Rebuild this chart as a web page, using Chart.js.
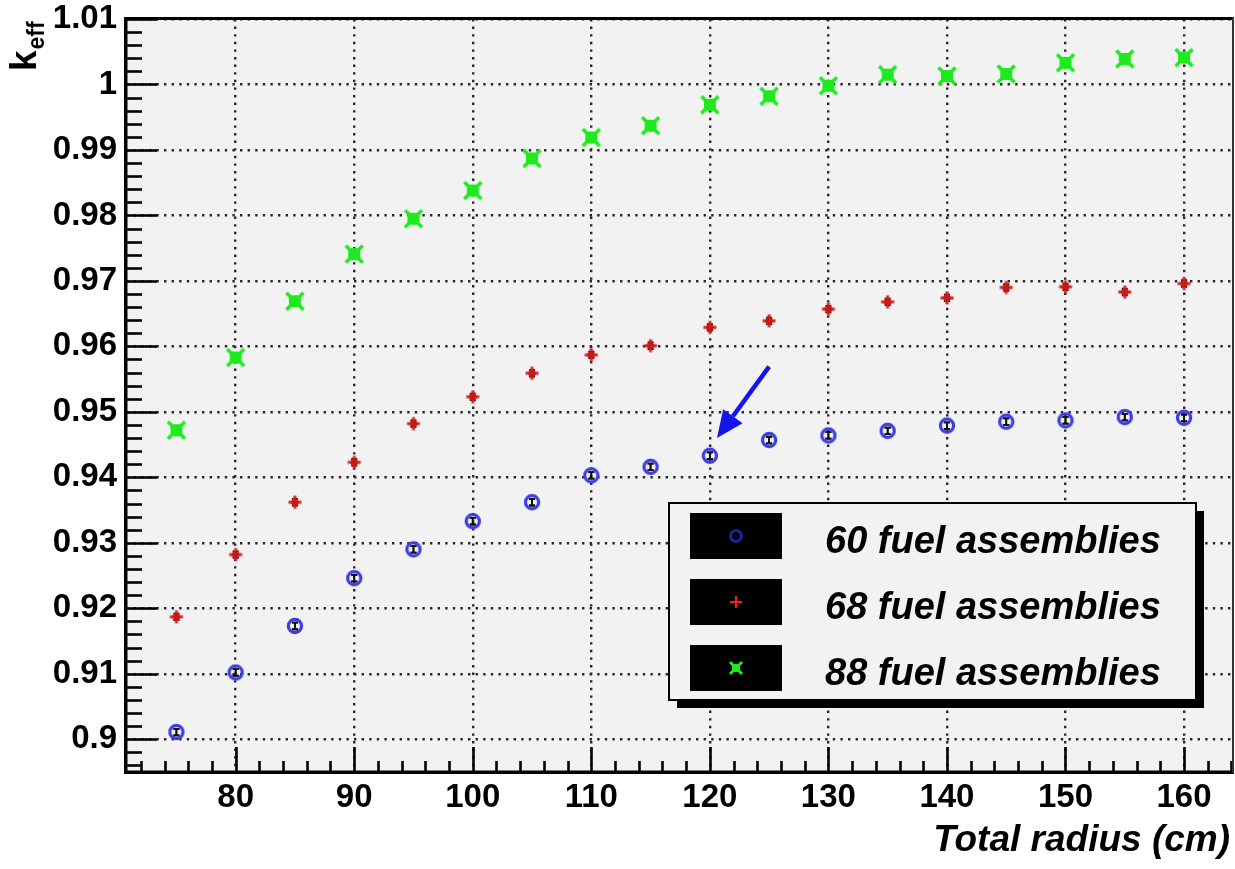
<!DOCTYPE html>
<html>
<head>
<meta charset="utf-8">
<script src="https://cdn.jsdelivr.net/npm/chart.js@4.4.1/dist/chart.umd.min.js"></script>
<style>
  html, body { margin: 0; padding: 0; background: #ffffff; }
  #wrap { width: 1235px; height: 869px; position: relative; }
  canvas { display: block; }
</style>
</head>
<body>
<div id="wrap"><canvas id="c" width="1235" height="869"></canvas></div>
<script>
// ---------------- data ----------------
const radius = [75, 80, 85, 90, 95, 100, 105, 110, 115, 120, 125, 130, 135, 140, 145, 150, 155, 160];
const keff60 = [0.9011, 0.9102, 0.9173, 0.9246, 0.9290, 0.9333, 0.9362, 0.9403, 0.9416, 0.9433, 0.9457, 0.9464, 0.9471, 0.9479, 0.9485, 0.9487, 0.9492, 0.9491];
const keff68 = [0.9187, 0.9282, 0.9362, 0.9423, 0.9482, 0.9523, 0.9559, 0.9587, 0.9601, 0.9629, 0.9639, 0.9657, 0.9668, 0.9674, 0.9690, 0.9691, 0.9683, 0.9696];
const keff88 = [0.9472, 0.9583, 0.9669, 0.9741, 0.9795, 0.9838, 0.9887, 0.9919, 0.9937, 0.9969, 0.9982, 0.9998, 1.0015, 1.0013, 1.0016, 1.0033, 1.0039, 1.0041];
const err60 = [0.0005, 0.0005, 0.0005, 0.0005, 0.0005, 0.0005, 0.0005, 0.0005, 0.0005, 0.0005, 0.0005, 0.0005, 0.0005, 0.0005, 0.0005, 0.0005, 0.0005, 0.0005];
const err68 = [0.0005, 0.0005, 0.0005, 0.0005, 0.0005, 0.0005, 0.0005, 0.0005, 0.0005, 0.0005, 0.0005, 0.0005, 0.0005, 0.0005, 0.0005, 0.0005, 0.0005, 0.0005];
const err88 = [0.0005, 0.0005, 0.0005, 0.0005, 0.0005, 0.0005, 0.0005, 0.0005, 0.0005, 0.0005, 0.0005, 0.0005, 0.0005, 0.0005, 0.0005, 0.0005, 0.0005, 0.0005];
const seriesLabels = ['60 fuel assemblies', '68 fuel assemblies', '88 fuel assemblies'];
const xTickValues = [80, 90, 100, 110, 120, 130, 140, 150, 160];
const xTickLabels = ['80', '90', '100', '110', '120', '130', '140', '150', '160'];
const yTickValues = [0.90, 0.91, 0.92, 0.93, 0.94, 0.95, 0.96, 0.97, 0.98, 0.99, 1.00, 1.01];
const yTickLabels = ['0.9', '0.91', '0.92', '0.93', '0.94', '0.95', '0.96', '0.97', '0.98', '0.99', '1', '1.01'];
const xRange = [70.75, 164.13];
const yRange = [0.895, 1.01];
const xAxisTitle = 'Total radius (cm)';
const yAxisTitleMain = 'k';
const yAxisTitleSub = 'eff';
const arrowFrom = [125.0, 0.9569];
const arrowTo = [120.6, 0.9460];

// ---------------- marker images ----------------
const FONT = '"Liberation Sans", Arial, Helvetica, sans-serif';
function makeMarker(kind, legend) {
  const s = 28, c = document.createElement('canvas');
  c.width = s; c.height = s;
  const g = c.getContext('2d');
  const m = s / 2;
  if (kind === 'circle') {
    g.strokeStyle = legend ? 'rgb(35,35,190)' : 'rgb(60,60,228)';
    g.lineWidth = legend ? 2.5 : 3.2;
    g.beginPath(); g.arc(m, m, legend ? 5.5 : 6.6, 0, Math.PI * 2); g.stroke();
  } else if (kind === 'plus') {
    const a = legend ? 6 : 6.5;
    g.strokeStyle = legend ? 'rgb(245,30,30)' : 'rgb(222,35,35)';
    g.lineWidth = legend ? 2.2 : 3;
    g.beginPath();
    g.moveTo(m - a, m); g.lineTo(m + a, m);
    g.moveTo(m, m - a); g.lineTo(m, m + a);
    g.stroke();
    if (!legend) {
      g.fillStyle = 'rgb(200,25,25)';
      g.beginPath(); g.arc(m, m, 3.8, 0, Math.PI * 2); g.fill();
    }
  } else {
    const a = legend ? 6 : 8.5, q = legend ? 4 : 6;
    g.fillStyle = 'rgb(30,235,30)';
    g.strokeStyle = 'rgb(30,235,30)';
    g.fillRect(m - q, m - q, 2 * q, 2 * q);
    g.lineWidth = legend ? 3 : 3.6;
    g.beginPath();
    g.moveTo(m - a, m - a); g.lineTo(m + a, m + a);
    g.moveTo(m + a, m - a); g.lineTo(m - a, m + a);
    g.stroke();
  }
  return c;
}
const markerKinds = ['circle', 'plus', 'star'];
const plotMarkers = markerKinds.map(k => makeMarker(k, false));
const legendMarkers = markerKinds.map(k => makeMarker(k, true));

const seriesValues = [keff60, keff68, keff88];
const seriesErrors = [err60, err68, err88];

const datasets = seriesValues.map((vals, i) => ({
  label: seriesLabels[i],
  data: radius.map((r, j) => ({ x: r, y: vals[j] })),
  pointStyle: plotMarkers[i],
  pointRadius: 8,
  showLine: false,
  errors: seriesErrors[i]
}));

function drawErr(ctx, xs, ys, ds) {
  ds.data.forEach((p, j) => {
    const e = ds.errors[j];
    const px = xs.getPixelForValue(p.x);
    const y1 = ys.getPixelForValue(p.y - e), y2 = ys.getPixelForValue(p.y + e);
    ctx.beginPath();
    ctx.moveTo(px, y1); ctx.lineTo(px, y2);
    ctx.moveTo(px - 3, y1); ctx.lineTo(px + 3, y1);
    ctx.moveTo(px - 3, y2); ctx.lineTo(px + 3, y2);
    ctx.stroke();
  });
}

// ---------------- decoration plugin ----------------
const decor = {
  id: 'decor',
  beforeDraw(chart) {
    const { ctx, chartArea: a } = chart;
    ctx.save();
    ctx.fillStyle = '#ffffff';
    ctx.fillRect(0, 0, chart.width, chart.height);
    ctx.fillStyle = 'rgb(242,242,242)';
    ctx.fillRect(a.left, a.top, a.right - a.left, a.bottom - a.top);
    ctx.restore();
  },
  beforeDatasetsDraw(chart) {
    const { ctx } = chart;
    ctx.save();
    ctx.strokeStyle = '#111';
    ctx.lineWidth = 1.8;
    chart.data.datasets.forEach(ds => drawErr(ctx, chart.scales.x, chart.scales.y, ds));
    ctx.restore();
  },
  afterDatasetsDraw(chart) {
    const { ctx } = chart;
    ctx.save();
    ctx.strokeStyle = '#111';
    ctx.lineWidth = 1.8;
    drawErr(ctx, chart.scales.x, chart.scales.y, chart.data.datasets[0]);
    ctx.restore();
  },
  afterDraw(chart) {
    const { ctx, chartArea: a } = chart;
    const xs = chart.scales.x, ys = chart.scales.y;
    ctx.save();

    // ticks (major + minor)
    ctx.strokeStyle = '#000';
    ctx.lineWidth = 2.6;
    const yStep = (yTickValues[1] - yTickValues[0]) / 5;
    for (let k = -5; k <= (yTickValues.length - 1) * 5; k++) {
      const v = yTickValues[0] + k * yStep;
      if (v < yRange[0] - 1e-9 || v > yRange[1] + 1e-9) continue;
      const py = Math.round(ys.getPixelForValue(v)) + 0.5;
      const len = (k % 5 === 0) ? 31 : 16;
      ctx.beginPath(); ctx.moveTo(a.left, py); ctx.lineTo(a.left + len, py); ctx.stroke();
    }
    const xStep = (xTickValues[1] - xTickValues[0]) / 5;
    for (let k = -5; k <= (xTickValues.length - 1) * 5 + 5; k++) {
      const v = xTickValues[0] + k * xStep;
      if (v < xRange[0] || v > xRange[1]) continue;
      const px = Math.round(xs.getPixelForValue(v)) + 0.5;
      const len = (k % 5 === 0) ? 25 : 11;
      ctx.beginPath(); ctx.moveTo(px, a.bottom); ctx.lineTo(px, a.bottom - len); ctx.stroke();
    }

    // frame
    ctx.fillStyle = '#000';
    ctx.fillRect(a.left - 2, a.top - 2, 3.5, a.bottom - a.top + 4);
    ctx.fillRect(a.left - 2, a.bottom - 1.5, a.right - a.left + 3, 3.5);
    ctx.fillRect(a.left - 2, a.top - 2, a.right - a.left + 3, 3);
    ctx.fillStyle = '#333';
    ctx.fillRect(a.right - 1, a.top - 2, 2, a.bottom - a.top + 3);

    // arrow annotation
    const tx = xs.getPixelForValue(arrowTo[0]), ty = ys.getPixelForValue(arrowTo[1]);
    const fx = xs.getPixelForValue(arrowFrom[0]), fy = ys.getPixelForValue(arrowFrom[1]);
    const ang = Math.atan2(ty - fy, tx - fx);
    const headL = 27, headW = 12;
    const bx = tx - headL * Math.cos(ang), by = ty - headL * Math.sin(ang);
    ctx.strokeStyle = 'rgb(20,20,235)';
    ctx.fillStyle = 'rgb(20,20,235)';
    ctx.lineWidth = 4.5;
    ctx.beginPath(); ctx.moveTo(fx, fy); ctx.lineTo(bx, by); ctx.stroke();
    ctx.beginPath();
    ctx.moveTo(tx, ty);
    ctx.lineTo(bx + headW * Math.sin(ang), by - headW * Math.cos(ang));
    ctx.lineTo(bx - headW * Math.sin(ang), by + headW * Math.cos(ang));
    ctx.closePath(); ctx.fill();

    // legend box with shadow
    const L = { x: 669, y: 503, w: 527, h: 197 };
    ctx.fillStyle = '#000';
    ctx.fillRect(L.x + 8, L.y + 8, L.w, L.h);
    ctx.fillStyle = 'rgb(242,242,242)';
    ctx.fillRect(L.x, L.y, L.w, L.h);
    ctx.strokeStyle = '#000';
    ctx.lineWidth = 2;
    ctx.strokeRect(L.x, L.y, L.w, L.h);
    ctx.font = 'italic bold 38px ' + FONT;
    ctx.textBaseline = 'alphabetic';
    ctx.textAlign = 'left';
    for (let i = 0; i < seriesLabels.length; i++) {
      const sy = 513 + i * 66;
      ctx.fillStyle = '#000';
      ctx.fillRect(690, sy, 92, 46);
      const mk = legendMarkers[i];
      ctx.drawImage(mk, 736 - mk.width / 2, sy + 23 - mk.height / 2);
      ctx.fillStyle = '#000';
      ctx.fillText(seriesLabels[i], 825, sy + 40);
    }

    // axis titles
    ctx.fillStyle = '#000';
    ctx.font = 'italic bold 37px ' + FONT;
    ctx.textAlign = 'right';
    ctx.fillText(xAxisTitle, 1230, 851);

    ctx.translate(36, 71);
    ctx.rotate(-Math.PI / 2);
    ctx.textAlign = 'left';
    ctx.font = 'bold 37px ' + FONT;
    ctx.fillText(yAxisTitleMain, 0, 0);
    const kw = ctx.measureText(yAxisTitleMain).width;
    ctx.font = 'bold 23px ' + FONT;
    ctx.fillText(yAxisTitleSub, kw + 1, 8);
    ctx.restore();
  }
};

// ---------------- chart ----------------
new Chart(document.getElementById('c'), {
  type: 'scatter',
  data: { datasets },
  options: {
    responsive: false,
    animation: false,
    devicePixelRatio: 1,
    layout: { autoPadding: false, padding: { top: 19, right: 2, left: 0, bottom: 0 } },
    plugins: { legend: { display: false }, tooltip: { enabled: false } },
    scales: {
      x: {
        type: 'linear',
        min: xRange[0], max: xRange[1],
        afterBuildTicks: s => { s.ticks = xTickValues.map(v => ({ value: v })); },
        afterFit: s => { s.height = 97; s.paddingLeft = 0; s.paddingRight = 0; },
        ticks: {
          autoSkip: false, maxRotation: 0, padding: 6, color: '#000',
          font: { family: FONT, size: 33, weight: 'bold' },
          callback: (v, i) => xTickLabels[i]
        },
        grid: { color: 'rgb(40,40,40)', lineWidth: 2.4, drawTicks: false },
        border: { display: false, dash: [2.4, 5.2] }
      },
      y: {
        type: 'linear',
        min: yRange[0], max: yRange[1],
        afterBuildTicks: s => { s.ticks = yTickValues.map(v => ({ value: v })); },
        afterFit: s => { s.width = 126; s.paddingTop = 0; s.paddingBottom = 0; },
        ticks: {
          autoSkip: false, padding: 9, color: '#000',
          font: { family: FONT, size: 33, weight: 'bold' },
          callback: (v, i) => yTickLabels[i]
        },
        grid: { color: 'rgb(40,40,40)', lineWidth: 2.4, drawTicks: false },
        border: { display: false, dash: [2.4, 5.2] }
      }
    }
  },
  plugins: [decor]
});
</script>
</body>
</html>
